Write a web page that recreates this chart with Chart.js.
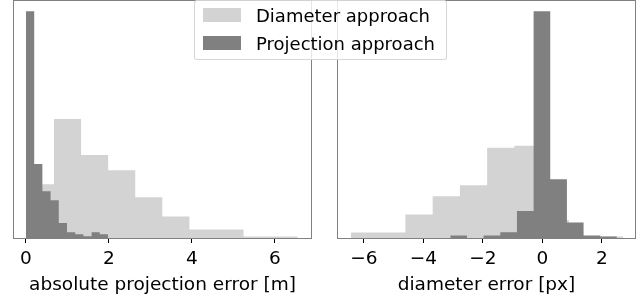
<!DOCTYPE html>
<html>
<head>
<meta charset="utf-8">
<script src="https://cdn.jsdelivr.net/npm/chart.js@4"></script>
<style>
  html, body { margin: 0; padding: 0; background: #fff; }
  #wrap { position: relative; width: 644px; height: 300px; overflow: hidden; font-family: "DejaVu Sans", sans-serif; }
  .box { position: absolute; top: 0; width: 322px; height: 300px; }
  #legend {
    position: absolute; left: 194px; top: 0; width: 251px; height: 58px;
    background: rgba(255,255,255,0.8); border: 1px solid rgba(204,204,204,0.8);
    border-radius: 3px; z-index: 5;
  }
  .patch { position: absolute; left: 8px; width: 38px; height: 14px; }
  .lbl { position: absolute; left: 61px; font-size: 18px; line-height: 18px; color: #000; white-space: nowrap; }
</style>
</head>
<body>
<div id="wrap">
  <div class="box" style="left:0"><canvas id="leftChart"></canvas></div>
  <div class="box" style="left:322px"><canvas id="rightChart"></canvas></div>
  <div id="legend">
    <div class="patch" style="top:7px;background:#d3d3d3"></div>
    <div class="lbl" style="top:6px">Diameter approach</div>
    <div class="patch" style="top:35px;background:#808080"></div>
    <div class="lbl" style="top:34px">Projection approach</div>
  </div>
</div>
<script>
// left panel: absolute projection error [m]
const diamEdgesL = [0.023, 0.675, 1.328, 1.980, 2.633, 3.285, 3.938, 4.590, 5.243, 5.895, 6.548];
const diamCountsL = [53.5, 118.5, 82.5, 67.5, 40.5, 21.5, 8.5, 8.5, 1.5, 1.5];
const projEdgesL = [0, 0.198, 0.395, 0.593, 0.790, 0.988, 1.186, 1.383, 1.581, 1.778, 1.976];
const projCountsL = [225.5, 73.5, 46.5, 37.5, 14.8, 5.8, 3.8, 1.8, 5.8, 3.8];
const ticksL = [0, 2, 4, 6];

// right panel: diameter error [px]
const diamEdgesR = [-6.433, -5.517, -4.601, -3.685, -2.769, -1.853, -0.937, -0.021, 0.895, 1.811, 2.727];
const diamCountsR = [5.5, 5.5, 23.5, 41.5, 52.5, 89.8, 91.8, 18, 2, 1.5];
const projEdgesR = [-3.092, -2.532, -1.972, -1.412, -0.852, -0.292, 0.268, 0.828, 1.388, 1.948, 2.508];
const projCountsR = [2.5, 0, 2.5, 5.8, 26.8, 225.5, 58.5, 15.5, 2.5, 1.5];
const ticksR = [-6, -4, -2, 0, 2];

const LIGHT = '#d3d3d3';
const DARK = '#808080';

Chart.defaults.font.family = '"DejaVu Sans", sans-serif';
Chart.defaults.color = '#000';

// histogram as a filled step line: one point per left edge, plus the last right edge
function steps(edges, counts) {
  const pts = counts.map((c, i) => ({ x: edges[i], y: c }));
  pts.push({ x: edges[edges.length - 1], y: counts[counts.length - 1] });
  return pts;
}

function histSet(label, edges, counts, color, order) {
  return {
    label,
    data: steps(edges, counts),
    stepped: 'before',
    fill: 'origin',
    backgroundColor: color,
    borderColor: 'transparent',
    borderWidth: 0,
    pointRadius: 0,
    order
  };
}

const spines = {
  id: 'spines',
  afterDraw(chart) {
    const { ctx, chartArea: a } = chart;
    ctx.save();
    ctx.strokeStyle = '#808080';
    ctx.lineWidth = 1;
    ctx.strokeRect(Math.round(a.left) + 0.5, Math.round(a.top) + 0.5,
      Math.round(a.right - a.left) - 1, Math.round(a.bottom - a.top));
    ctx.restore();
  }
};

const fmt = v => (v < 0 ? '\u2212' + Math.abs(v) : String(v));

function makeChart(id, title, sets, ticks, xmin, xmax, pad) {
  const ymax = Math.max(...sets.flatMap(s => s.data.map(p => p.y))) * 1.05;
  return new Chart(document.getElementById(id).getContext('2d'), {
    type: 'line',
    data: { datasets: sets },
    options: {
      responsive: true,
      maintainAspectRatio: false,
      animation: false,
      events: [],
      layout: { padding: pad },
      plugins: { legend: { display: false }, tooltip: { enabled: false } },
      scales: {
        x: {
          type: 'linear',
          min: xmin,
          max: xmax,
          afterBuildTicks: s => { s.ticks = ticks.map(v => ({ value: v })); },
          afterFit: s => { s.height = 62; },
          grid: { display: true, drawOnChartArea: false, drawTicks: true, tickLength: 5, color: '#000', lineWidth: 1 },
          border: { display: false },
          ticks: { font: { size: 18.5 }, padding: 5, maxRotation: 0, callback: fmt },
          title: { display: true, text: title, font: { size: 18.5 }, padding: { top: 0, bottom: 4 } }
        },
        y: { display: false, min: 0, max: ymax }
      }
    },
    plugins: [spines]
  });
}

makeChart('leftChart', 'absolute projection error [m]', [
  histSet('Projection approach', projEdgesL, projCountsL, DARK, 1),
  histSet('Diameter approach', diamEdgesL, diamCountsL, LIGHT, 2)
], ticksL, -0.313, 6.892, { left: 13, right: 10, top: 0, bottom: 0 });

makeChart('rightChart', 'diameter error [px]', [
  histSet('Projection approach', projEdgesR, projCountsR, DARK, 1),
  histSet('Diameter approach', diamEdgesR, diamCountsR, LIGHT, 2)
], ticksR, -6.90, 3.15, { left: 15, right: 8, top: 0, bottom: 0 });
</script>
</body>
</html>
